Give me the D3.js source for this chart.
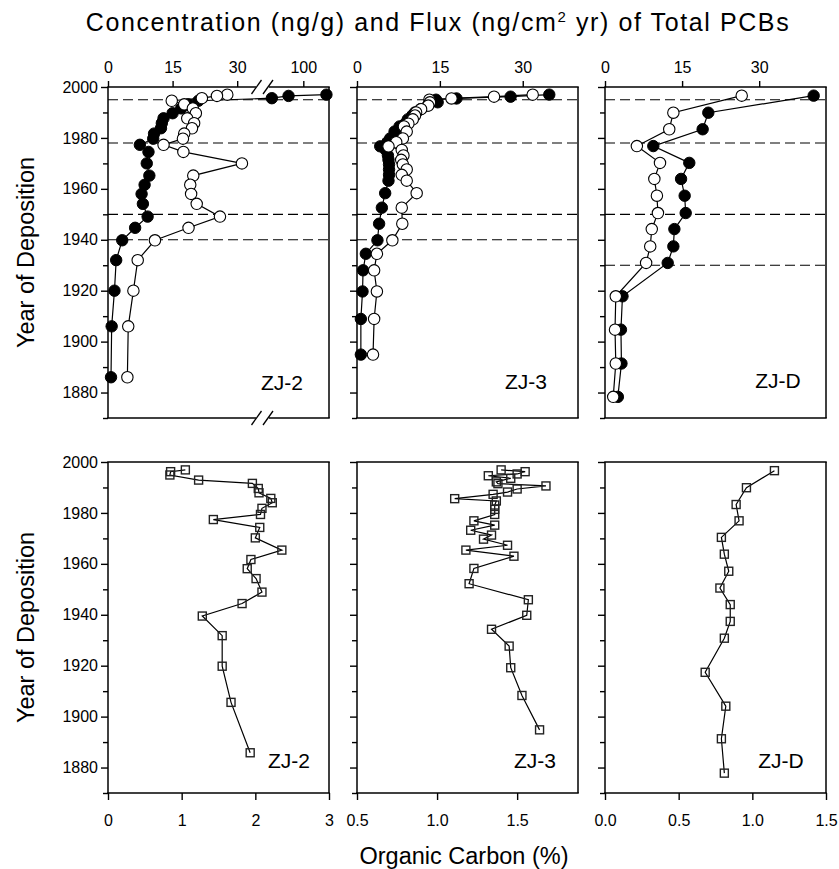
<!DOCTYPE html>
<html>
<head>
<meta charset="utf-8">
<script src="https://cdn.jsdelivr.net/npm/d3@7"></script>
<style>
  body { margin: 0; background: #fff; }
  svg { font-family: "Liberation Sans", Arial, sans-serif; }
</style>
</head>
<body>
<svg id="chart" width="839" height="869"></svg>
<script>
// ---- data ----
const cores = ['ZJ-2', 'ZJ-3', 'ZJ-D'];

// ZJ-2 total PCBs
const pcbYears2 = [1997, 1996.5, 1995.6, 1994.6, 1993.2, 1991.6, 1989.7, 1987.7, 1985.8, 1983.8, 1981.7, 1979.7, 1977.3, 1974.5, 1970, 1965.2, 1961.6, 1958, 1954.1, 1949.1, 1944.7, 1939.8, 1932, 1920, 1906, 1886];
const filled2 = [136, 77, 51, 21, 18.6, 17, 15, 12.9, 12.5, 12.3, 10.7, 10.5, 7.4, 9.4, 9, 9.6, 8.5, 7.8, 8.1, 9.2, 6.3, 3.3, 1.9, 1.5, 0.85, 0.7];
const open2 = [27.7, 25.3, 21.8, 14.8, 17.7, 19.7, 20.4, 18.4, 20, 19.5, 17.7, 17.4, 12.9, 17.5, 31.1, 19.8, 19.1, 19.3, 20.6, 26, 18.7, 10.9, 6.9, 5.9, 4.7, 4.5];

// ZJ-3 total PCBs
const pcbYears3 = [1997, 1996.2, 1995.5, 1995, 1994, 1992.7, 1991.3, 1990, 1988.8, 1987.3, 1985.6, 1984.5, 1982.5, 1979.8, 1978.3, 1976.7, 1975.3, 1973.1, 1971.4, 1969.6, 1967.6, 1965.5, 1963.2, 1958.3, 1952.6, 1946.3, 1939.8, 1934.5, 1928, 1919.7, 1908.9, 1894.9];
const filled3 = [34.8, 27.8, 18, 14.3, 14.6, 12.8, 11.5, 10.5, 10, 9.2, 8.7, 7.7, 6.8, 6.0, 5.5, 4.2, 5.2, 5.6, 5.7, 5.8, 5.8, 5.8, 5.7, 5.1, 4.5, 4.0, 3.7, 1.6, 1.1, 1.0, 0.7, 0.7];
const open3 = [31.8, 24.8, 17.1, 13.1, 13.2, 12.9, 11.6, 10.7, 10.5, 10.1, 9.3, 8.5, 9.0, 8.3, 7.1, 5.7, 8.1, 8.4, 8.0, 8.3, 9.0, 8.1, 9.0, 10.8, 8.1, 8.2, 6.4, 3.6, 3.1, 3.6, 3.1, 2.9];

// ZJ-D total PCBs
const pcbYearsD = [1996.6, 1989.9, 1983.4, 1976.8, 1970.2, 1963.9, 1957.3, 1950.5, 1944.2, 1937.4, 1930.9, 1917.8, 1904.7, 1891.4, 1878.3];
const filledD = [40.6, 20.1, 19.0, 9.4, 16.4, 14.8, 15.5, 15.7, 13.5, 13.3, 12.2, 3.4, 3.1, 3.2, 2.5];
const openD = [26.6, 13.3, 12.5, 6.2, 10.7, 9.6, 10.1, 10.3, 9.1, 8.8, 8.0, 2.1, 1.95, 2.1, 1.6];

// organic carbon (%)
const ocYears2 = [1996.9, 1996.2, 1994.9, 1992.9, 1991.6, 1989.6, 1987.9, 1985.7, 1984, 1981.8, 1979.4, 1977.4, 1974.3, 1970.2, 1965.4, 1961.7, 1958.1, 1954.2, 1948.9, 1944.4, 1939.5, 1931.8, 1919.8, 1905.6, 1885.8];
const oc2 = [1.05, 0.85, 0.84, 1.23, 1.96, 2.04, 2.05, 2.21, 2.23, 2.09, 2.07, 1.43, 2.06, 2.0, 2.36, 1.94, 1.89, 2.01, 2.09, 1.82, 1.28, 1.55, 1.55, 1.67, 1.93];
const ocYears3 = [1996.9, 1996.2, 1995.3, 1994.6, 1993.6, 1992.2, 1991.5, 1990.6, 1989.4, 1988.2, 1987.3, 1985.6, 1984.7, 1983.1, 1981.4, 1979.4, 1976.9, 1975.2, 1973.2, 1971.3, 1969.7, 1967.3, 1965.4, 1963, 1958.2, 1952.2, 1945.9, 1939.8, 1934.3, 1927.7, 1919.2, 1908.3, 1894.8];
const oc3 = [1.40, 1.55, 1.50, 1.32, 1.46, 1.37, 1.38, 1.68, 1.50, 1.44, 1.35, 1.11, 1.37, 1.36, 1.36, 1.36, 1.23, 1.36, 1.21, 1.34, 1.29, 1.44, 1.18, 1.48, 1.23, 1.20, 1.57, 1.56, 1.34, 1.45, 1.46, 1.53, 1.64];
const ocYearsD = [1996.6, 1989.9, 1983.3, 1976.9, 1970.4, 1963.8, 1957.1, 1950.5, 1944, 1937.4, 1930.8, 1917.4, 1904.1, 1891.3, 1877.8];
const ocD = [1.15, 0.96, 0.89, 0.91, 0.79, 0.81, 0.84, 0.78, 0.85, 0.85, 0.81, 0.68, 0.82, 0.79, 0.81];

// dated horizons (dashed lines)
const horizons2 = [1995, 1978, 1950, 1940];
const horizons3 = [1995, 1978, 1950, 1940];
const horizonsD = [1995, 1978, 1950, 1930];

// ticks
const yearTicks = [1880, 1900, 1920, 1940, 1960, 1980, 2000];
const yearMinor = [1870, 1890, 1910, 1930, 1950, 1970, 1990];
const pcbTicks2 = [0, 15, 30, 100];
const pcbTicks = [0, 15, 30];
const ocTicks2 = [0, 1, 2, 3];
const ocTicks3 = [0.5, 1.0, 1.5];
const ocTicksD = [0.0, 0.5, 1.0, 1.5];

// ---- layout ----
const colLeft = [108, 357, 605];
const panelW = 221;
const topRow = {top: 87, bottom: 418};
const botRow = {top: 462, bottom: 793};
const fontFam = '"Liberation Sans", Arial, sans-serif';

const svg = d3.select('#chart');

const yTop = d3.scaleLinear().domain([1870, 2000]).range([topRow.bottom, topRow.top]);
const yBot = d3.scaleLinear().domain([1870, 2000]).range([botRow.bottom, botRow.top]);

// broken axis for ZJ-2: 0..34.6 | 45..140
const xPcb2 = d3.scaleLinear().domain([0, 34.6, 45, 140]).range([108, 257, 268, 329]);
const xPcb3 = d3.scaleLinear().domain([0, 40]).range([357, 578]);
const xPcbD = d3.scaleLinear().domain([0, 43]).range([605, 826]);
const xOc2 = d3.scaleLinear().domain([0, 3]).range([108, 329]);
const xOc3 = d3.scaleLinear().domain([0.5, 1.88]).range([357, 578]);
const xOcD = d3.scaleLinear().domain([0, 1.5]).range([605, 826]);

const panels = [
  {name: cores[0], col: 0, x: xPcb2, xTicks: pcbTicks2, years: pcbYears2, filled: filled2, open: open2, horizons: horizons2,
   ocX: xOc2, ocTicks: ocTicks2, ocFmt: d3.format('d'), ocYears: ocYears2, oc: oc2, lblTop: [282, 390], lblBot: [289, 768]},
  {name: cores[1], col: 1, x: xPcb3, xTicks: pcbTicks, years: pcbYears3, filled: filled3, open: open3, horizons: horizons3,
   ocX: xOc3, ocTicks: ocTicks3, ocFmt: d3.format('.1f'), ocYears: ocYears3, oc: oc3, lblTop: [526, 389], lblBot: [535, 768]},
  {name: cores[2], col: 2, x: xPcbD, xTicks: pcbTicks, years: pcbYearsD, filled: filledD, open: openD, horizons: horizonsD,
   ocX: xOcD, ocTicks: ocTicksD, ocFmt: d3.format('.1f'), ocYears: ocYearsD, oc: ocD, lblTop: [778, 388], lblBot: [781, 768]}
];

function styleAxis(g) {
  g.select('.domain').remove();
  g.attr('font-size', 16).attr('font-family', fontFam);
  g.selectAll('line').attr('stroke', '#000').attr('stroke-width', 1.4);
  g.selectAll('text').attr('fill', '#000');
}

// year axis; labels only on the first column
function drawYAxis(x0, y, showLabels) {
  svg.append('g')
    .attr('transform', 'translate(' + x0 + ',0)')
    .call(d3.axisLeft(y).tickValues(yearTicks).tickSize(7).tickPadding(3)
      .tickFormat(showLabels ? d3.format('d') : ''))
    .call(styleAxis);
  svg.append('g')
    .attr('transform', 'translate(' + x0 + ',0)')
    .call(d3.axisLeft(y).tickValues(yearMinor).tickSize(5).tickFormat(''))
    .call(styleAxis);
}

function drawFrame(x0, top, bottom, broken) {
  const x1 = x0 + panelW;
  const fr = svg.append('g').attr('stroke', '#000').attr('stroke-width', 1.5).attr('fill', 'none');
  fr.append('line').attr('x1', x0).attr('x2', x0).attr('y1', top).attr('y2', bottom);
  fr.append('line').attr('x1', x1).attr('x2', x1).attr('y1', top).attr('y2', bottom);
  [top, bottom].forEach(function(yy) {
    if (broken) {
      fr.append('line').attr('x1', x0 - 0.75).attr('x2', 256).attr('y1', yy).attr('y2', yy);
      fr.append('line').attr('x1', 269).attr('x2', x1 + 0.75).attr('y1', yy).attr('y2', yy);
      [256.5, 268].forEach(function(cx) {
        fr.append('line').attr('stroke-width', 1.3)
          .attr('x1', cx - 5).attr('y1', yy + 7).attr('x2', cx + 5).attr('y2', yy - 7);
      });
    } else {
      fr.append('line').attr('x1', x0 - 0.75).attr('x2', x1 + 0.75).attr('y1', yy).attr('y2', yy);
    }
  });
}

panels.forEach(function(p) {
  const x0 = colLeft[p.col];
  const x1 = x0 + panelW;

  // ---------- top row: PCBs ----------
  const gTop = svg.append('g');
  gTop.selectAll('.horizon')
    .data(p.horizons)
    .enter()
    .append('line')
    .attr('x1', x0).attr('x2', x1)
    .attr('y1', d => yTop(d)).attr('y2', d => yTop(d))
    .attr('stroke', '#000').attr('stroke-width', 1.2)
    .attr('stroke-dasharray', '10,5');

  const filledPts = d3.zip(p.years, p.filled);
  const openPts = d3.zip(p.years, p.open);
  const line = d3.line().x(d => p.x(d[1])).y(d => yTop(d[0]));

  gTop.append('path').datum(filledPts).attr('d', line)
    .attr('fill', 'none').attr('stroke', '#000').attr('stroke-width', 1.2);
  gTop.append('path').datum(openPts).attr('d', line)
    .attr('fill', 'none').attr('stroke', '#000').attr('stroke-width', 1.2);

  gTop.selectAll('.dot-filled')
    .data(filledPts)
    .enter()
    .append('circle')
    .attr('cx', d => p.x(d[1])).attr('cy', d => yTop(d[0]))
    .attr('r', 5.7).attr('fill', '#000').attr('stroke', '#000');
  gTop.selectAll('.dot-open')
    .data(openPts)
    .enter()
    .append('circle')
    .attr('cx', d => p.x(d[1])).attr('cy', d => yTop(d[0]))
    .attr('r', 5.7).attr('fill', '#fff').attr('stroke', '#000').attr('stroke-width', 1.1);

  drawFrame(x0, topRow.top, topRow.bottom, p.col === 0);
  drawYAxis(x0, yTop, p.col === 0);

  svg.append('g')
    .attr('transform', 'translate(0,' + topRow.top + ')')
    .call(d3.axisTop(p.x).tickValues(p.xTicks).tickSize(6).tickPadding(8).tickFormat(d3.format('d')))
    .call(styleAxis);

  svg.append('text')
    .attr('x', p.lblTop[0]).attr('y', p.lblTop[1])
    .attr('text-anchor', 'middle').attr('font-size', 21)
    .text(p.name);

  // ---------- bottom row: organic carbon ----------
  const gBot = svg.append('g');
  const ocPts = d3.zip(p.ocYears, p.oc);
  const ocLine = d3.line().x(d => p.ocX(d[1])).y(d => yBot(d[0]));
  gBot.append('path').datum(ocPts).attr('d', ocLine)
    .attr('fill', 'none').attr('stroke', '#000').attr('stroke-width', 1.2);
  gBot.selectAll('.sq')
    .data(ocPts)
    .enter()
    .append('rect')
    .attr('x', d => p.ocX(d[1]) - 4).attr('y', d => yBot(d[0]) - 4)
    .attr('width', 8).attr('height', 8)
    .attr('fill', 'none').attr('stroke', '#222').attr('stroke-width', 1.4);

  drawFrame(x0, botRow.top, botRow.bottom, false);
  drawYAxis(x0, yBot, p.col === 0);

  svg.append('g')
    .attr('transform', 'translate(0,' + botRow.bottom + ')')
    .call(d3.axisBottom(p.ocX).tickValues(p.ocTicks).tickSize(7).tickPadding(15).tickFormat(p.ocFmt))
    .call(styleAxis);

  svg.append('text')
    .attr('x', p.lblBot[0]).attr('y', p.lblBot[1])
    .attr('text-anchor', 'middle').attr('font-size', 21)
    .text(p.name);
});

// ---------- titles ----------
const title = svg.append('text')
  .attr('x', 438).attr('y', 31)
  .attr('text-anchor', 'middle')
  .attr('font-size', 25)
  .attr('letter-spacing', 1.6);
title.append('tspan').text('Concentration (ng/g) and Flux (ng/cm');
title.append('tspan').attr('font-size', 15).attr('dy', -9).text('2');
title.append('tspan').attr('dy', 9).text(' yr) of Total PCBs');

svg.append('text')
  .attr('transform', 'translate(34,' + (topRow.top + topRow.bottom) / 2 + ') rotate(-90)')
  .attr('text-anchor', 'middle').attr('font-size', 23.5)
  .text('Year of Deposition');
svg.append('text')
  .attr('transform', 'translate(34,' + (botRow.top + botRow.bottom) / 2 + ') rotate(-90)')
  .attr('text-anchor', 'middle').attr('font-size', 23.5)
  .text('Year of Deposition');

svg.append('text')
  .attr('x', 464).attr('y', 864)
  .attr('text-anchor', 'middle').attr('font-size', 23.5)
  .text('Organic Carbon (%)');
</script>
</body>
</html>
